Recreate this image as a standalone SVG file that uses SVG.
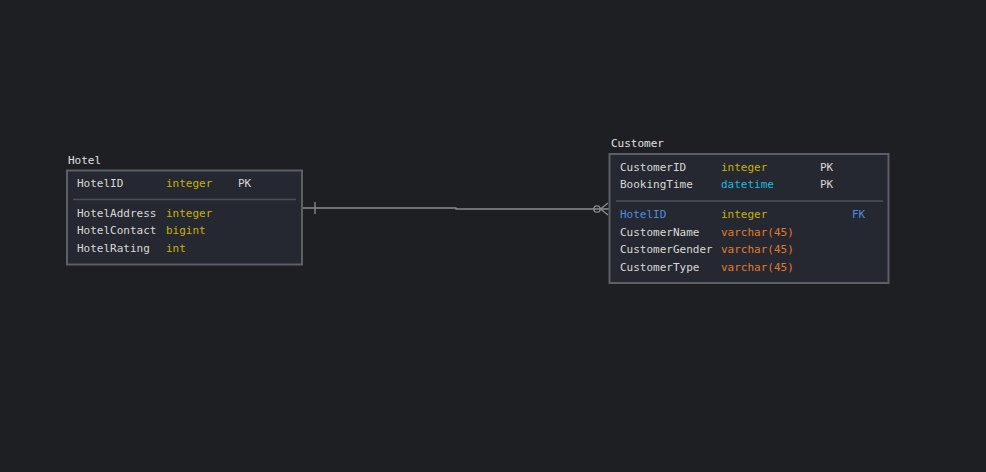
<svg xmlns="http://www.w3.org/2000/svg" width="986" height="472" viewBox="0 0 986 472">
<style>
text{font-family:"DejaVu Sans Mono","Liberation Mono",monospace;font-size:11px;dominant-baseline:central;fill:#d8d8d8}
.title{fill:#e0e0e0}
.box{fill:#252830;stroke:#5c5f66;stroke-width:2}
.sep{stroke:#4c4f57;stroke-width:1.5}
.yel{fill:#c9b10c}
.cyan{fill:#1eb8dc}
.org{fill:#e37a2c}
.blue{fill:#4f8ae6}
.conn{fill:none;stroke:#8a8d93;stroke-width:1.3}
</style>
<rect width="986" height="472" fill="#1e1f23"/>
<g id="connectors">
<path class="conn" d="M303,208 H456 V209 H609"/>
<path class="conn" d="M315,202 V214"/>
<circle class="conn" cx="597" cy="209" r="3.2" fill="#1e1f23"/>
<path class="conn" d="M600.5,209 L608,203 M600.5,209 L608,215"/>
</g>
<g id="Hotel">
<text class="title" x="68" y="160">Hotel</text>
<rect class="box" x="67" y="170.5" width="235" height="94"/>
<text x="77" y="183">HotelID</text><text class="yel" x="166" y="183">integer</text><text x="238" y="183">PK</text>
<line class="sep" x1="73" y1="199.5" x2="296" y2="199.5"/>
<text x="77" y="213">HotelAddress</text><text class="yel" x="166" y="213">integer</text>
<text x="77" y="230">HotelContact</text><text class="yel" x="166" y="230">bigint</text>
<text x="77" y="248">HotelRating</text><text class="yel" x="166" y="248">int</text>
</g>
<g id="Customer">
<text class="title" x="611" y="143">Customer</text>
<rect class="box" x="609.5" y="154" width="279" height="129"/>
<text x="620" y="167">CustomerID</text><text class="yel" x="721" y="167">integer</text><text x="820" y="167">PK</text>
<text x="620" y="184">BookingTime</text><text class="cyan" x="721" y="184">datetime</text><text x="820" y="184">PK</text>
<line class="sep" x1="616" y1="201" x2="883" y2="201"/>
<text class="blue" x="620" y="214">HotelID</text><text class="yel" x="721" y="214">integer</text><text class="blue" x="852" y="214">FK</text>
<text x="620" y="232">CustomerName</text><text class="org" x="721" y="232">varchar(45)</text>
<text x="620" y="249">CustomerGender</text><text class="org" x="721" y="249">varchar(45)</text>
<text x="620" y="267">CustomerType</text><text class="org" x="721" y="267">varchar(45)</text>
</g>
</svg>
